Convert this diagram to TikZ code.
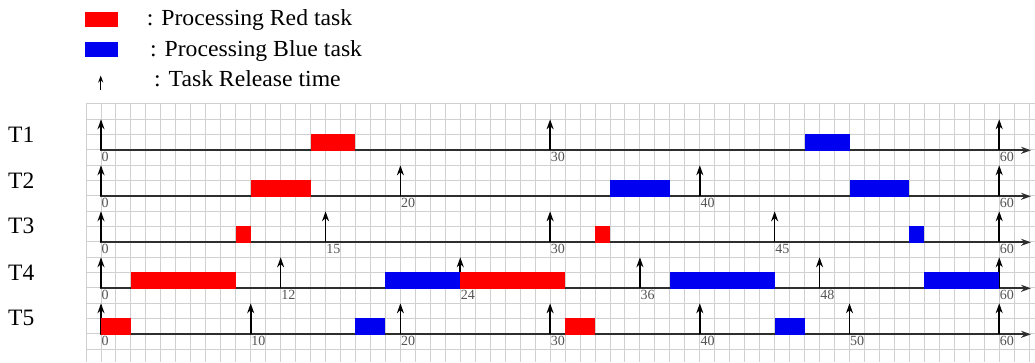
\documentclass[tikz,border=0pt]{standalone}
\usepackage{fontspec}
\setmainfont{Liberation Serif}
\usetikzlibrary{arrows.meta}
\definecolor{gridc}{HTML}{D0D0D0}
\definecolor{axisc}{HTML}{2E2E2E}
\definecolor{labc}{HTML}{555555}
\definecolor{redt}{HTML}{FF0000}
\definecolor{bluet}{HTML}{0000F0}
\tikzset{
  gridline/.style={gridc, line width=0.9pt},
  axisline/.style={axisc, line width=1.8pt, -{Stealth[length=10pt,width=7pt]}},
  relarrow/.style={black, line width=1.6pt, -{Stealth[length=10pt,width=7pt]}},
  legarrow/.style={black, line width=1.3pt, -{Stealth[length=7pt,width=5pt]}},
  ticklab/.style={anchor=north west, inner sep=0pt, font=\fontsize{14}{14}\selectfont, text=labc},
  tasklab/.style={anchor=west, inner sep=0pt, font=\fontsize{23.5}{24}\selectfont},
  legtext/.style={anchor=base west, inner sep=0pt, font=\fontsize{23}{24}\selectfont}
}
\begin{document}
\begin{tikzpicture}[x=1pt,y=-1pt]
\useasboundingbox (0,0) rectangle (1035,362);
\fill[white] (0,0) rectangle (1035,362);
% grid
\foreach \k in {0,...,63} \draw[gridline] ({86+14.97*\k},103.7) -- ({86+14.97*\k},362);
\foreach \k in {0,...,16} \draw[gridline] (86,{103.7+15.33*\k}) -- (1035,{103.7+15.33*\k});
% axes, release arrows, tick labels, task names
\foreach \i/\rels in {1/{0,30,60},2/{0,20,40,60},3/{0,15,30,45,60},4/{0,12,24,36,48,60},5/{0,10,20,30,40,50,60}} {
  \pgfmathsetmacro\ay{150.3+46*(\i-1)}
  \coordinate (ax\i s) at (99.5,\ay);
  \coordinate (ax\i e) at (1031,\ay);
  \draw[axisline] (ax\i s) -- (ax\i e);
  \foreach \r in \rels {
    \coordinate (r\i-\r b) at ({101+14.97*\r},\ay);
    \coordinate (r\i-\r t) at ({101+14.97*\r},{\ay-31});
    \draw[relarrow] (r\i-\r b) -- (r\i-\r t);
    \node[ticklab] (lab\i-\r) at ({101.5+14.97*\r},{\ay+2}) {\r};
  }
  \node[tasklab] (T\i) at (8,{\ay-16}) {T\i};
}
% processing blocks
\foreach \i/\a/\b/\c in {1/14/17/redt, 1/47/50/bluet, 2/10/14/redt, 2/34/38/bluet, 2/50/54/bluet,
  3/9/10/redt, 3/33/34/redt, 3/54/55/bluet, 4/2/9/redt, 4/24/31/redt, 4/19/24/bluet, 4/38/45/bluet,
  4/55/60/bluet, 5/0/2/redt, 5/31/33/redt, 5/17/19/bluet, 5/45/47/bluet}
  \fill[\c] ({101+14.97*\a},{150.3+46*(\i-1)-16.5}) rectangle ({101+14.97*\b},{150.3+46*(\i-1)+0.8});
% legend
\fill[redt] (85,11.7) rectangle (118.3,26.7);
\fill[bluet] (85,41.7) rectangle (118.3,57.3);
\coordinate (lgb) at (100.7,90);
\coordinate (lgt) at (100.7,75.5);
\draw[legarrow] (lgb) -- (lgt);
\node[legtext] (lr) at (146.7,25) {\scalebox{1.03}[1]{: Processing Red task}};
\node[legtext] (lbl) at (150,56.7) {\scalebox{1.03}[1]{: Processing Blue task}};
\node[legtext] (lrt) at (154,86) {\scalebox{1.03}[1]{: Task Release time}};
\end{tikzpicture}
\end{document}
